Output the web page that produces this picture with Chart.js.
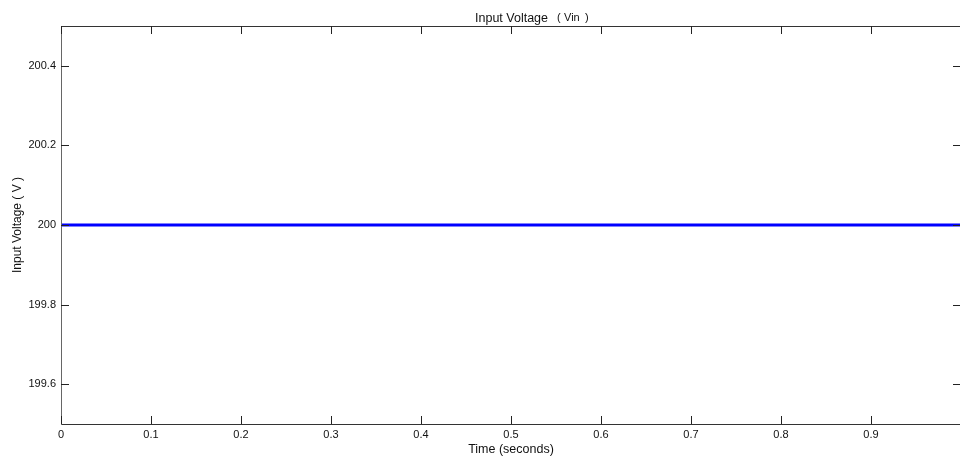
<!DOCTYPE html>
<html>
<head>
<meta charset="utf-8">
<script src="https://cdn.jsdelivr.net/npm/chart.js@4/dist/chart.umd.min.js"></script>
<style>
  html, body { margin: 0; padding: 0; background: #fff; overflow: hidden; }
  #wrap { width: 964px; height: 461px; position: relative; }
</style>
</head>
<body>
<div id="wrap"><canvas id="vinChart" width="964" height="461"></canvas></div>
<script>
// data
const timeValues = [0, 0.1, 0.2, 0.3, 0.4, 0.5, 0.6, 0.7, 0.8, 0.9, 1.0];
const voltageValues = [200, 200, 200, 200, 200, 200, 200, 200, 200, 200, 200];
const xTickValues = [0, 0.1, 0.2, 0.3, 0.4, 0.5, 0.6, 0.7, 0.8, 0.9];
const yTickValues = [199.6, 199.8, 200, 200.2, 200.4];

const FONT = '"Liberation Sans", Arial, sans-serif';

// MATLAB style frame: border plus inward ticks on all four sides, and titles
const matlabFrame = {
  id: 'matlabFrame',
  afterDraw(chart) {
    const { ctx, chartArea: a, scales } = chart;
    const len = 8;
    ctx.save();
    ctx.lineWidth = 1;
    ctx.strokeStyle = '#333';
    ctx.beginPath();
    ctx.moveTo(a.left, a.top + 0.5); ctx.lineTo(a.right, a.top + 0.5);
    ctx.moveTo(a.left, a.bottom + 0.5); ctx.lineTo(a.right, a.bottom + 0.5);
    ctx.moveTo(a.right + 0.5, a.top); ctx.lineTo(a.right + 0.5, a.bottom);
    ctx.stroke();
    ctx.strokeStyle = '#666';
    ctx.beginPath();
    ctx.moveTo(a.left + 0.5, a.top); ctx.lineTo(a.left + 0.5, a.bottom + 1);
    ctx.stroke();

    ctx.strokeStyle = '#222';
    ctx.beginPath();
    scales.x.ticks.forEach(t => {
      const px = Math.round(scales.x.getPixelForValue(t.value)) + 0.5;
      ctx.moveTo(px, a.bottom); ctx.lineTo(px, a.bottom - len);
      ctx.moveTo(px, a.top); ctx.lineTo(px, a.top + len);
    });
    scales.y.ticks.forEach(t => {
      const py = Math.round(scales.y.getPixelForValue(t.value)) + 0.5;
      ctx.moveTo(a.left, py); ctx.lineTo(a.left + len, py);
      ctx.moveTo(a.right, py); ctx.lineTo(a.right - len, py);
    });
    ctx.stroke();

    // titles
    const cx = (a.left + a.right) / 2;
    ctx.fillStyle = '#111';
    ctx.textBaseline = 'alphabetic';
    ctx.font = '12.5px ' + FONT;
    ctx.textAlign = 'right';
    ctx.fillText('Input Voltage', 548, 22);
    ctx.textAlign = 'left';
    ctx.font = '11px ' + FONT;
    ctx.fillText('(', 557, 21);
    ctx.fillText('Vin', 564, 21);
    ctx.fillText(')', 585, 21);

    ctx.font = '12.5px ' + FONT;
    ctx.textAlign = 'center';
    ctx.fillText('Time (seconds)', cx, 453);

    ctx.save();
    ctx.translate(21, (a.top + a.bottom) / 2);
    ctx.rotate(-Math.PI / 2);
    ctx.font = '12px ' + FONT;
    ctx.fillText('Input Voltage ( V )', 0, 0);
    ctx.restore();
    ctx.restore();
  }
};

new Chart(document.getElementById('vinChart').getContext('2d'), {
  type: 'scatter',
  data: {
    datasets: [{
      label: 'Vin',
      data: timeValues.map((t, i) => ({ x: t, y: voltageValues[i] })),
      showLine: true,
      borderColor: '#0000ff',
      borderWidth: 3,
      pointRadius: 0,
      fill: false
    }]
  },
  options: {
    responsive: false,
    animation: false,
    layout: { padding: { left: 0, right: 3, top: 26, bottom: 0 } },
    plugins: {
      legend: { display: false },
      tooltip: { enabled: false },
      title: { display: false }
    },
    scales: {
      x: {
        type: 'linear',
        min: 0,
        max: 1,
        afterBuildTicks: s => { s.ticks = xTickValues.map(v => ({ value: v })); },
        afterFit: s => { s.height = 37; },
        border: { display: false },
        grid: { display: false, drawTicks: false },
        ticks: {
          padding: 4,
          color: '#111',
          font: { family: FONT, size: 11 },
          callback: v => String(v),
          maxRotation: 0,
          autoSkip: false
        }
      },
      y: {
        type: 'linear',
        min: 199.5,
        max: 200.5,
        afterBuildTicks: s => { s.ticks = yTickValues.map(v => ({ value: v })); },
        afterFit: s => { s.width = 61; },
        border: { display: false },
        grid: { display: false, drawTicks: false },
        ticks: {
          padding: 5,
          color: '#111',
          font: { family: FONT, size: 11 },
          callback: v => String(+v.toFixed(1)),
          autoSkip: false
        }
      }
    }
  },
  plugins: [matlabFrame]
});
</script>
</body>
</html>
